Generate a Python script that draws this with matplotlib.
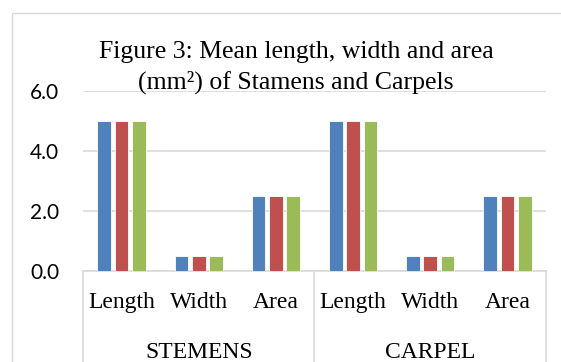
import matplotlib
matplotlib.use('Agg')
import matplotlib.pyplot as plt
from matplotlib.lines import Line2D
from matplotlib.patches import Rectangle
import matplotlib.transforms as mtransforms

W, H = 561, 362

groups = ['STEMENS', 'CARPEL']
measures = ['Length', 'Width', 'Area']
series1 = [5.0, 0.5, 2.5, 5.0, 0.5, 2.5]
series2 = [5.0, 0.5, 2.5, 5.0, 0.5, 2.5]
series3 = [5.0, 0.5, 2.5, 5.0, 0.5, 2.5]
yticks = [0.0, 2.0, 4.0, 6.0]
title_lines = ['Figure 3: Mean length, width and area',
               '(mm²) of Stamens and Carpels']

colors = ['#4F81BD', '#C0504D', '#9BBB59']
grid_col = '#D9D9D9'
serif = 'Liberation Serif'

fig = plt.figure(figsize=(W / 100, H / 100), dpi=100)

# chart border (runs off the right and bottom edges like the reference crop)
fig.add_artist(Rectangle((12 / W, -0.1), 1.2, (H - 13) / H + 0.1,
                         transform=fig.transFigure, fill=False,
                         edgecolor=grid_col, linewidth=1))

left, right = 83 / W, 546 / W
bottom, top = (H - 271) / H, (H - 91) / H
ax = fig.add_axes([left, bottom, right - left, top - bottom])

x = list(range(len(series1)))
step = 0.224
bw = 0.178
for j, vals in enumerate([series1, series2, series3]):
    ax.bar([i + (j - 1) * step for i in x], vals, width=bw,
           color=colors[j], edgecolor='white', linewidth=0.6, zorder=3)

ax.set_xlim(-0.5, len(x) - 0.5)
ax.set_ylim(0, 6)
ax.set_yticks(yticks)
ax.set_yticklabels(['%.1f' % v for v in yticks], fontfamily='Lato', fontsize=15)
ax.tick_params(axis='y', length=0, pad=17)
ax.set_xticks([])
ax.yaxis.grid(True, color=grid_col, linewidth=1.2, zorder=0)
for s in ['top', 'right', 'left']:
    ax.spines[s].set_visible(False)
ax.spines['bottom'].set_color(grid_col)
ax.spines['bottom'].set_linewidth(1.2)

# category axis: separators and two tiers of labels
blend = mtransforms.blended_transform_factory(ax.transData, fig.transFigure)
for xs in [-0.5, 2.5, 5.5]:
    ax.add_line(Line2D([xs, xs], [bottom, 0], transform=blend, color=grid_col,
                       linewidth=1.2, clip_on=False))
for i in x:
    ax.text(i, (H - 308) / H, measures[i % 3], transform=blend, ha='center',
            va='baseline', fontfamily=serif, fontsize=17)
for g, name in enumerate(groups):
    ax.text(g * 3 + 1, (H - 358) / H, name, transform=blend, ha='center',
            va='baseline', fontfamily=serif, fontsize=17)

# title drawn as two lines, baselines
for line, base in zip(title_lines, [58, 89]):
    fig.text(296 / W, (H - base) / H, line, ha='center', va='baseline',
             fontfamily=serif, fontsize=18.5)

fig.savefig('out.png', dpi=100)
